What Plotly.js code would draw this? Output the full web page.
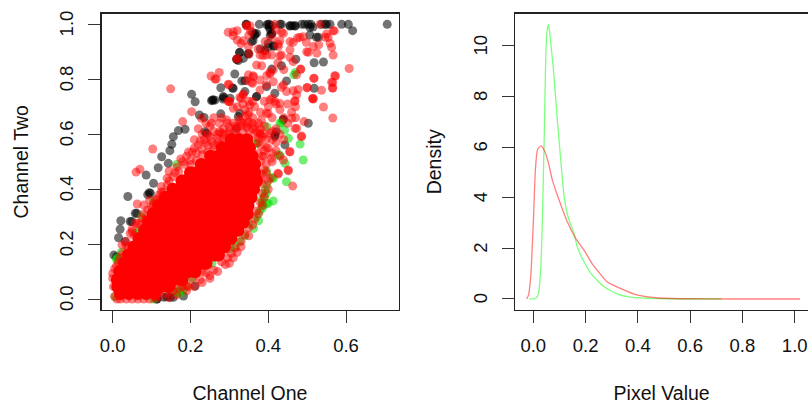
<!DOCTYPE html>
<html><head><meta charset="utf-8">
<script src="https://cdn.plot.ly/plotly-3.0.1.min.js"></script>
<style>html,body{margin:0;padding:0;background:#fff;overflow:hidden;height:400px}#c{width:808px;height:410px}</style>
</head><body><div id="c"></div>
<script>
const blackPts=[[.706,1],[.617,.977],[.606,1],[.589,1],[.559,1],[.546,1],[.529,.953],[.507,.961],[.503,1],[.486,1],[.469,.994],[.456,.994],[.434,1],[.403,1],[.396,.998],[.377,1],[.343,1],[.409,.967],[.405,.96],[.37,.967],[.357,.937],[.349,.894],[.326,.897],[.319,.873],[.336,.876],[.314,.819],[.332,.794],[.278,.769],[.31,.767],[.34,.755],[.37,.737],[.203,.745],[.212,.718],[.254,.722],[.263,.724],[.284,.728],[.302,.731],[.518,.86],[.542,.863],[.447,.794],[.471,.873],[.518,.767],[.417,.749],[.503,.64],[.439,.654],[.417,.597],[.443,.561],[.223,.67],[.235,.661],[.278,.674],[.156,.591],[.169,.613],[.186,.618],[.152,.563],[.147,.54],[.126,.518],[.117,.478],[.143,.494],[.086,.451],[.105,.421],[.094,.387],[.09,.38],[.039,.373],[.021,.285],[.019,.254],[.015,.223],[.003,.16],[.032,.209],[.049,.282],[.062,.312],[.212,.047],[.182,.011],[.156,.006],[.139,.008],[.113,0],[.01,.154],[.403,.99],[.41,.995],[.462,.995],[.51,1],[.515,.99],[.36,.97],[.365,.96],[.415,.92],[.4,.93],[.319,.873],[.38,.91]];
const blackPts2=[[.258,.725],[.284,.737],[.37,.737],[.438,.652],[.421,.609],[.417,.591],[.323,.664],[.327,.676],[.318,.621],[.237,.609],[.241,.603],[.344,1],[.4,1],[.404,.983],[.409,.965],[.366,.965],[.361,.94],[.349,.892],[.327,.898],[.323,.868],[.4,.916],[.413,.922],[.391,.904],[.43,1],[.456,.995],[.469,.995],[.494,1],[.507,.989],[.524,.953],[.537,1],[.55,1],[.434,.849],[.409,.837],[.308,.768],[.34,.795],[.396,.773],[.286,.734],[.257,.724],[.097,.385],[.058,.312],[.045,.282],[.148,.006],[.131,.006],[.114,0]];
const greenPts=[[.49,.506],[.482,.564],[.443,.494],[.447,.427],[.43,.524],[.434,.642],[.452,.585],[.466,.816],[.411,.442],[.396,.464],[.413,.357],[.396,.348],[.392,.397],[.37,.3],[.362,.257],[.327,.209],[.349,.275],[.302,.184],[.19,.045],[.173,.021],[.105,0],[.01,.142],[.006,.008],[.396,.415],[.383,.36],[.37,.567],[.396,.627],[.385,.33],[.375,.285],[.34,.23],[.315,.19],[.18,.03],[.17,.025],[.022,.17],[.06,.24],[.075,.3],[.165,.49]];
const greenPts2=[[.43,.64],[.442,.615],[.425,.524],[.413,.439],[.4,.348],[.387,.342],[.395,.385],[.368,.567],[.17,.033],[.165,.025],[.204,.075],[.255,.13],[.011,.148],[.067,.245],[.105,.355],[.39,.375],[.378,.32],[.385,.35],[.47,.825]];
const redPts=[[.149,.765],[.608,.839],[.566,.659],[.542,.699],[.537,.76],[.566,.768],[.566,.788],[.573,.812],[.518,.803],[.514,.729],[.5,.769],[.477,.763],[.484,.836],[.473,.816],[.492,.646],[.486,.593],[.469,.621],[.463,.411],[.452,.467],[.456,.536],[.426,.455],[.439,.506],[.253,.812],[.274,.825],[.266,.801],[.297,.782],[.103,.546],[.07,.472],[.06,.462],[.203,.682],[.18,.646],[0,.093],[.002,.045],[.297,.971],[.31,.973],[.32,.977],[.32,.943],[.345,.994],[.417,1],[.439,.967],[.456,.937],[.426,.919],[.396,.888],[.379,.888],[.409,.888],[.434,.888],[.456,.907],[.464,.864],[.499,.9],[.516,.919],[.533,1],[.559,.931],[.567,.888],[.57,.976],[.554,.953],[.392,.937],[.349,.919],[.37,.852],[.413,.834],[.362,.809],[.349,.816],[.379,.797],[.413,.791],[.439,.779],[.379,.761],[.33,.93],[.32,.875],[.43,.94],[.425,.86],[.44,.835],[.42,.98],[.41,.95],[.39,.905],[.525,.895],[.53,.925],[.355,.975],[.35,.96],[.475,.95],[.49,.955],[.55,.965],[.405,.82],[.395,.78],[.36,.785],[.345,.795],
[0,.075],[.005,.11],[.015,.135],[.025,.165],[.04,.185],[.035,.21],[.055,.23],[.05,.255],[.07,.27],[.085,.29],[.08,.31],[.1,.335],[.095,.36],[.12,.38],[.125,.41],[.14,.44],[.145,.465],[.165,.48],[.175,.51],[.19,.52],[.205,.535],[.22,.56],[.235,.58],[.25,.59],[.27,.6],[.285,.62],[.3,.61],[.31,.64],[.325,.655],[.34,.665],[.35,.68],[.36,.66],[.375,.64],[.39,.63],[.38,.6],[.395,.58],[.4,.55],[.385,.52],[.41,.5],[.39,.47],[.405,.44],[.385,.42],[.4,.4],
[.005,.01],[.02,0],[.035,0],[.05,0],[.065,0],[.08,0],[.095,0],[.11,.003],[.12,.01],[.14,.02],[.155,.03],[.17,.04],[.19,.05],[.205,.075],[.225,.07],[.24,.095],[.26,.105],[.28,.135],[.295,.15],[.305,.165],[.315,.185],[.33,.21],[.34,.235],[.35,.26],[.365,.29],[.37,.32],[.38,.35],[.385,.385],[.3,.13],[.25,.085],
[.3,.72],[.32,.7],[.33,.73],[.35,.72],[.34,.69],[.365,.7],[.39,.72],[.4,.7],[.41,.73],[.42,.71],[.43,.69],[.45,.71],[.46,.68],[.47,.7],[.44,.66],[.41,.66],[.38,.68],[.36,.62],[.42,.62],[.43,.6],[.41,.58],[.44,.58],[.42,.54],[.43,.52],[.28,.66],[.26,.66],[.24,.64],[.22,.62],[.25,.63],[.21,.58],[.23,.6],[.36,.72],[.335,.71],[.4,.675],[.45,.64],[.47,.66],[.345,.64],[.32,.625],[.41,.61],[.42,.57],[.395,.55],[.41,.53]];
const redPts2=[[.335,.743],[.297,.719],[.353,.706],[.31,.694],[.254,.64],[.275,.64],[.293,.652],[.228,.658],[.335,.64],[.395,.676],[.382,.652],[.417,.719],[.447,.755],[.473,.743],[.468,.719],[.515,.731],[.46,.658],[.473,.621],[.485,.591],[.455,.536],[.451,.47],[.425,.458],[.408,.512],[.404,.603],[.378,.603],[.348,.67],[.275,.609],[.404,.725],[.43,.712],
[.344,.995],[.353,.995],[.31,.959],[.336,.94],[.374,.91],[.387,.886],[.43,.886],[.456,.88],[.426,.928],[.434,.971],[.464,.934],[.481,.953],[.503,.898],[.498,.934],[.546,.953],[.567,.977],[.563,.916],[.571,.813],[.563,.789],[.565,.768],[.5,.77],[.483,.837],[.517,.804],[.383,.849],[.361,.813],[.357,.789],[.404,.825],[.434,.771],[.396,.813],[.263,.801],[.299,.78],[.336,.746],[.327,.734],[.301,.719],[.464,.758],[.469,.722],[.516,.728],[.319,.874],[.351,.892],
[.063,.346],[.08,.342],[.058,.276],[.045,.239],[.024,.197],[.011,.051],[.011,0],[.221,.118],[.23,.1],[.195,.045],[.178,.045],
[.26,.56],[.27,.57],[.285,.585],[.3,.6],[.315,.61],[.33,.63],[.345,.625],[.36,.64],[.37,.61],[.385,.59],[.375,.57],[.39,.54],[.375,.53],[.38,.5],[.395,.49],[.385,.455],[.4,.43],[.245,.56],[.23,.545],[.215,.53],[.2,.505],[.185,.49],[.17,.465],[.155,.445],[.14,.415],[.13,.39],[.115,.365],[.105,.345],[.09,.325],[.075,.295],[.065,.275],[.05,.245],[.035,.195],[.02,.15],[.01,.12],
[.35,.23],[.36,.27],[.375,.31],[.385,.34],[.39,.37],[.33,.19],[.32,.17],[.31,.15],[.29,.125],[.27,.1],[.25,.075],[.23,.06],[.21,.045],[.19,.03],[.165,.015],[.145,.005]];
const redPts3=[[.2,.49],[.215,.505],[.23,.525],[.245,.535],[.26,.545],[.275,.56],[.29,.575],[.305,.59],[.32,.595],[.335,.61],[.35,.615],[.365,.6],[.375,.585],[.24,.57],[.255,.575],[.27,.585],[.285,.6],[.3,.625],[.315,.63],[.33,.645],[.35,.645],[.365,.63],[.38,.62],[.39,.6],[.28,.605],[.295,.64],[.26,.61],[.245,.6],[.225,.575],[.21,.55],[.195,.535],[.18,.5],[.16,.46],[.145,.43],[.125,.39],[.11,.36],[.38,.56],[.39,.52],[.395,.46],[.38,.44]];
const redCoreRowY=[.02,.045,.07,.1,.13,.16,.19,.22,.25,.28,.31,.34,.37,.4,.43,.46,.49,.52,.55,.58];
const redCoreRowX=[
[.02,.042,.064,.086,.108],
[.013,.035,.057,.079,.101,.123,.145],
[.012,.024,.046,.068,.09,.112,.134,.156,.178],
[.018,.04,.062,.084,.106,.128,.15,.172,.194,.212],
[.03,.051,.073,.095,.117,.139,.161,.183,.205,.227,.24],
[.04,.062,.084,.106,.128,.15,.172,.194,.216,.238,.26,.272],
[.055,.073,.095,.117,.139,.161,.183,.205,.227,.249,.271,.288],
[.068,.084,.106,.128,.15,.172,.194,.216,.238,.26,.282,.304],
[.082,.095,.117,.139,.161,.183,.205,.227,.249,.271,.293,.315,.322],
[.092,.106,.128,.15,.172,.194,.216,.238,.26,.282,.304,.326,.336],
[.104,.117,.139,.161,.183,.205,.227,.249,.271,.293,.315,.337,.346],
[.118,.128,.15,.172,.194,.216,.238,.26,.282,.304,.326,.348],
[.135,.15,.161,.183,.205,.227,.249,.271,.293,.315,.337,.356],
[.155,.172,.194,.216,.238,.26,.282,.304,.326,.348,.362],
[.178,.183,.205,.227,.249,.271,.293,.315,.337,.359,.37],
[.2,.216,.238,.26,.282,.304,.326,.348,.365],
[.228,.249,.271,.293,.315,.337,.359,.365],
[.252,.272,.293,.315,.337,.358],
[.282,.302,.322,.342,.352],
[.305,.325,.345]];
const greenDensX=[-.015,.01,.02,.029,.035,.042,.048,.053,.058,.062,.067,.076,.092,.105,.118,.137,.156,.168,.194,.225,.27,.32,.37,.434,.52,.72];
const greenDensY=[0,.03,.22,1.28,3.25,6.5,9.7,10.6,10.85,10.6,10.1,9.2,7.07,5.5,4.04,3.1,2.6,2.07,1.47,.95,.49,.2,.07,.03,.01,0];
const redDensX=[-.025,-.018,-.009,.001,.008,.016,.029,.042,.057,.073,.099,.13,.162,.194,.225,.282,.333,.396,.472,.586,.776,1.02];
const redDensY=[0,.16,1,3.25,5.1,5.9,6.05,5.88,5.42,4.7,3.9,3.05,2.4,1.93,1.4,.68,.42,.16,.05,.01,0,0];
const xTicks=[0,.2,.4,.6], xTicks2=[0,.2,.4,.6,.8,1], yTicks=[0,.2,.4,.6,.8,1], yTicks2=[0,2,4,6,8,10];
const font={family:'"Liberation Sans",Arial,sans-serif',size:18.5,color:'#111'};
const tfont={...font,size:19.5};
const fmt=a=>a.map(v=>v.toFixed(1));
function pts(p,col,op,name){return{type:'scatter',mode:'markers',name,x:p.map(d=>d[0]),y:p.map(d=>d[1]),xaxis:'x',yaxis:'y',marker:{size:9,color:col,opacity:op,line:{width:0}}};}
const coreX=[],coreY=[];
redCoreRowX.forEach((r,i)=>r.forEach(v=>{coreX.push(v);coreY.push(redCoreRowY[i]);}));
const data=[
 pts(blackPts.concat(blackPts2),'#000',.55,'black'),
 pts(greenPts.concat(greenPts2),'#00e000',.55,'green'),
 pts(redPts.concat(redPts2,redPts3),'#ff0000',.5,'red'),
 {type:'scatter',mode:'markers',x:coreX,y:coreY,xaxis:'x',yaxis:'y',marker:{size:13,color:'#ff0000',opacity:1,line:{width:0}}},
 {type:'scatter',mode:'lines',x:greenDensX,y:greenDensY,xaxis:'x2',yaxis:'y2',line:{color:'rgba(0,255,0,.5)',width:1.3,shape:'spline',smoothing:.5}},
 {type:'scatter',mode:'lines',x:redDensX,y:redDensY,xaxis:'x2',yaxis:'y2',line:{color:'rgba(255,0,0,.5)',width:1.3,shape:'spline',smoothing:.5}}
];
const common={showgrid:false,zeroline:false,showline:true,linecolor:'#222',linewidth:1.2,ticks:'outside',ticklen:12,tickwidth:1,tickcolor:'#333',tickfont:font,automargin:false};
const dom=[.225,.966];
const layout={width:808,height:410,margin:{l:0,r:0,t:0,b:10},showlegend:false,paper_bgcolor:'#fff',plot_bgcolor:'#fff',font,
 xaxis:{...common,domain:[101.5/808,398.5/808],range:[-.0288,.735],tickvals:xTicks,ticktext:fmt(xTicks),mirror:true,anchor:'y',ticklabelstandoff:7,title:{text:'Channel One',font:tfont,standoff:31}},
 yaxis:{...common,domain:dom,range:[-.04,1.039],tickvals:yTicks,ticktext:fmt(yTicks),tickangle:-90,mirror:true,anchor:'x',ticklabelstandoff:8,ticklabelshift:2,title:{text:'Channel Two',font:tfont,standoff:22}},
 xaxis2:{...common,domain:[515.3/808,1],range:[-.0688,1.0508],tickvals:xTicks2,ticktext:fmt(xTicks2),mirror:true,anchor:'y2',ticklabelstandoff:7,title:{text:'Pixel Value',font:tfont,standoff:31}},
 yaxis2:{...common,domain:dom,range:[-.435,11.28],tickvals:yTicks2,tickangle:-90,anchor:'x2',ticklabelstandoff:8,ticklabelshift:2,title:{text:'Density',font:tfont,standoff:22}}
};
Plotly.newPlot('c',data,layout,{displayModeBar:false,staticPlot:true});
</script></body></html>
